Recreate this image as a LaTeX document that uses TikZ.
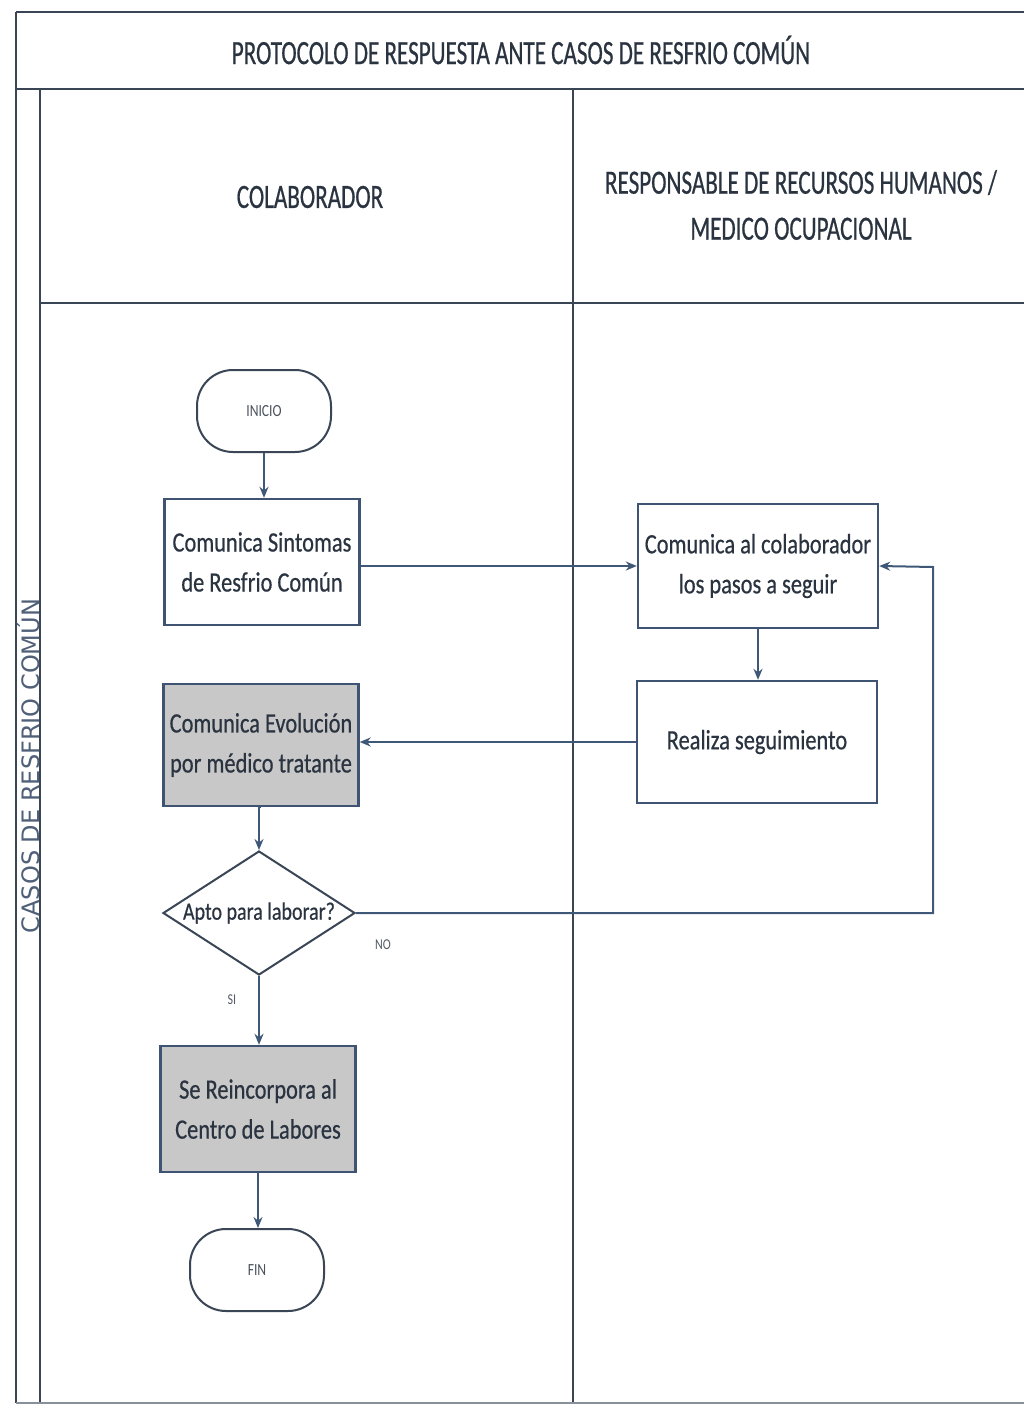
\documentclass[tikz,border=0pt]{standalone}
\usepackage{fontspec}
\setmainfont{Carlito}
\newfontfamily\cond[FakeStretch=0.8,FakeBold=0.5]{Carlito}
\newfontfamily\condl[FakeStretch=0.8]{Carlito}
\newfontfamily\condt[FakeStretch=0.68,FakeBold=0.6]{Carlito}
\newfontfamily\vside{DejaVu Sans}
\usetikzlibrary{shapes.geometric,arrows.meta}
\definecolor{ln}{HTML}{3A4656}
\definecolor{bx}{HTML}{3E5472}
\definecolor{gr}{HTML}{C8C8C8}
\definecolor{tx}{HTML}{2A3340}
\definecolor{ar}{HTML}{405878}
\definecolor{vt}{HTML}{4F6078}
\begin{document}
\begin{tikzpicture}[x=1pt,y=-1pt,
  frame/.style={draw=ln,line width=2.2pt},
  proc/.style={draw=bx,line width=2.4pt,minimum width=195pt,minimum height=124pt,align=center,
    font=\cond\fontsize{28}{40}\selectfont,text=tx,inner sep=2pt},
  gproc/.style={proc,fill=gr},
  term/.style={draw=ln,line width=2pt,rounded corners=36pt,minimum width=134pt,minimum height=82pt,
    font=\condl\fontsize{17}{20}\selectfont,text=tx!85},
  dec/.style={diamond,draw=ln,line width=2pt,minimum width=192pt,minimum height=124pt,inner sep=0pt},
  hdr/.style={font=\condt\fontsize{34}{46}\selectfont,text=tx,align=center},
  small/.style={font=\condl\fontsize{15}{18}\selectfont,text=tx!80},
  arr/.style={draw=ar,line width=2pt,-{Stealth[length=11pt,width=9pt]}}
]
\useasboundingbox (0,0) rectangle (1024,1415);
\fill[white] (0,0) rectangle (1024,1415);

% frame
\draw[frame] (16,12) -- (1024,12);
\draw[frame] (16,12) -- (16,1403);
\draw[frame,line width=2.8pt] (16,89) -- (1024,89);
\draw[frame] (40,89) -- (40,1403);
\draw[frame,line width=2.8pt] (40,303) -- (1024,303);
\draw[frame] (573,89) -- (573,1403);
\draw[draw=ln!60,line width=1.5pt] (16,1403) -- (1024,1403);

% headers
\node[hdr] (title) at (521,50) {PROTOCOLO DE RESPUESTA ANTE CASOS DE RESFRIO COMÚN};
\node[hdr] (col1) at (310,197) {COLABORADOR};
\node[hdr] (col2) at (801,205) {RESPONSABLE DE RECURSOS HUMANOS /\\MEDICO OCUPACIONAL};
\node[font=\vside\fontsize{24}{26}\selectfont,text=vt,rotate=90] (lane) at (29,766) {CASOS DE RESFRIO COMÚN};

% nodes
\node[term] (ini) at (264,411) {INICIO};
\node[proc] (s1) at (262,562) [minimum height=126pt] {Comunica Sintomas\\de Resfrio Común};
\node[proc,minimum width=240pt] (r1) at (758,566) {Comunica al colaborador\\los pasos a seguir};
\node[proc,minimum width=240pt,minimum height=122pt] (r2) at (757,742) {Realiza seguimiento};
\node[gproc,minimum height=122pt] (c2) at (261,745) {Comunica Evolución\\por médico tratante};
\node[dec,label={[font=\cond\fontsize{25}{28}\selectfont,text=tx]center:Apto para laborar?}] (d) at (259,913) {};
\node[gproc,minimum height=126pt] (c3) at (258,1109) {Se Reincorpora al\\Centro de Labores};
\node[term] (fin) at (257,1270) {FIN};
\coordinate (k) at (933,567);

% connectors
\draw[arr] (ini.south) -- (ini.south |- s1.north);
\draw[arr] (s1.east |- r1.west) -- (r1.west);
\draw[arr] (r1.south) -- (r1.south |- r2.north);
\draw[arr] (r2.west) -- (r2.west -| c2.east);
\draw[arr] (c2.south) -- (c2.south -| d.north) -- (d.north);
\draw[arr] (d.east) -| (k) -- (r1.east);
\draw[arr] (d.south) -- (d.south |- c3.north);
\draw[arr] (c3.south) -- (c3.south |- fin.north);

\node[small] (no) at (383,945) {NO};
\node[small] (si) at (232,1000) {SI};
\end{tikzpicture}
\end{document}
